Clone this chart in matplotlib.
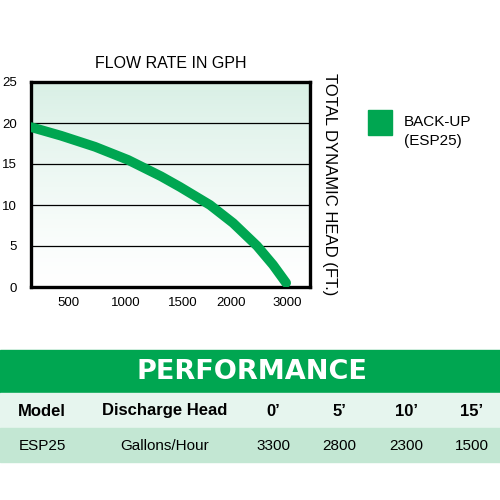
import numpy as np
import matplotlib
matplotlib.use("Agg")
import matplotlib.pyplot as plt
from matplotlib.patches import Rectangle

plt.rcParams['font.family'] = ['Liberation Sans', 'DejaVu Sans']

# curve (flow in chart units, head in ft)
flow = [167, 431, 730, 1020, 1310, 1477, 1741, 1944, 2155, 2295, 2410]
head = [19.5, 18.45, 17.1, 15.5, 13.5, 12.2, 10.0, 7.8, 5.0, 2.7, 0.5]

head_ticks = [0, 5, 10, 15, 20, 25]
flow_tick_pos = [500, 1000, 1500, 1930, 2420]
flow_tick_labels = ['500', '1000', '1500', '2000', '3000']

# performance table
table_header = ["Model", "Discharge Head", "0\u2019", "5\u2019", "10\u2019", "15\u2019"]
table_row = ["ESP25", "Gallons/Hour", "3300", "2800", "2300", "1500"]

GREEN = "#00a651"

fig = plt.figure(figsize=(5, 5), dpi=100)
fig.patch.set_facecolor("white")

# overlay axes in pixel coords for table and labels
bg = fig.add_axes([0, 0, 1, 1])
bg.set_xlim(0, 500)
bg.set_ylim(500, 0)
bg.set_axis_off()

ax = fig.add_axes([0.062, 0.426, 0.558, 0.41])
xlim = (167, 2620)
ylim = (0, 25)
grad = np.linspace(1, 0, 256).reshape(-1, 1)
top = np.array([0.85, 0.94, 0.90])
white = np.array([1.0, 1.0, 1.0])
img = white + (top - white) * (grad[..., None] ** 1.3)
ax.imshow(img, extent=[xlim[0], xlim[1], ylim[0], ylim[1]], aspect="auto", zorder=0)
for h in head_ticks[1:-1]:
    ax.axhline(h, color="black", lw=0.9, zorder=1)
ax.plot(flow, head, color=GREEN, lw=7, solid_capstyle="round",
        solid_joinstyle="round", zorder=3)
ax.set_xlim(*xlim)
ax.set_ylim(*ylim)
ax.set_yticks(head_ticks)
ax.set_xticks(flow_tick_pos)
ax.set_xticklabels(flow_tick_labels)
ax.tick_params(length=0, labelsize=9.5, pad=7)
ax.tick_params(axis="y", pad=10)
for s in ax.spines.values():
    s.set_linewidth(2.4)
    s.set_color("black")
ax.set_title("FLOW RATE IN GPH", fontsize=11.5, pad=10)

bg.text(330, 184, "TOTAL DYNAMIC HEAD (FT.)", rotation=-90, ha="center", va="center",
        fontsize=12)

# legend
bg.add_patch(Rectangle((368, 110), 24, 25, color=GREEN))
bg.text(404, 122, "BACK-UP", fontsize=11, va="center")
bg.text(404, 141, "(ESP25)", fontsize=11, va="center")

# table
bg.add_patch(Rectangle((0, 350), 500, 43, color=GREEN))
bg.add_patch(Rectangle((0, 393), 500, 35, color="#e6f5ee"))
bg.add_patch(Rectangle((0, 428), 500, 34, color="#c3e7d3"))
bg.text(252, 372, "PERFORMANCE", color="white", fontsize=19.5, fontweight="bold",
        ha="center", va="center", family="DejaVu Sans")
col_x = [42, 165, 273, 339, 406, 472]
for x, h, v in zip(col_x, table_header, table_row):
    bg.text(x, 411, h, fontsize=12, fontweight="bold", ha="center", va="center")
    bg.text(x, 446, v, fontsize=11, ha="center", va="center")

fig.savefig("out.png", dpi=100, facecolor="white")
